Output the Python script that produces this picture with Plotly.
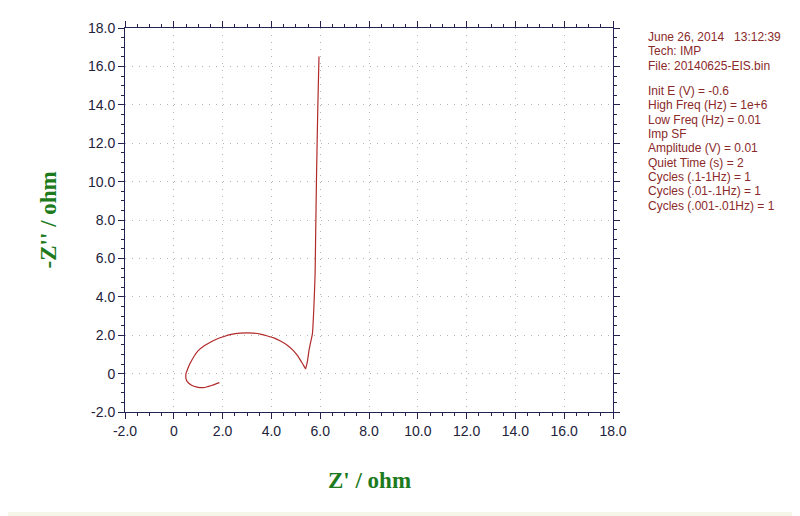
import plotly.graph_objects as go

# Nyquist data (Z' , -Z'')
z_real = [1.87, 1.55, 1.21, 0.95, 0.73, 0.55, 0.50, 0.50, 0.58, 0.66, 0.82, 1.00, 1.22, 1.48, 1.75,
          2.03, 2.35, 2.71, 3.00, 3.26, 3.55, 3.81, 4.10, 4.35, 4.65, 4.90, 5.08, 5.24, 5.33, 5.40,
          5.47, 5.54, 5.62, 5.68, 5.74, 5.79, 5.81, 5.85, 5.90, 5.95]
z_imag = [-0.47, -0.62, -0.73, -0.70, -0.61, -0.42, -0.26, 0.00, 0.28, 0.51, 0.88, 1.20, 1.43, 1.62, 1.79,
          1.92, 2.04, 2.11, 2.12, 2.11, 2.06, 1.97, 1.86, 1.71, 1.48, 1.20, 0.92, 0.59, 0.40, 0.25,
          0.60, 1.20, 1.70, 2.07, 3.43, 5.16, 6.87, 10.32, 13.74, 16.52]

tick_vals = [-2, 0, 2, 4, 6, 8, 10, 12, 14, 16, 18]
tick_text = ["-2.0", "0", "2.0", "4.0", "6.0", "8.0", "10.0", "12.0", "14.0", "16.0", "18.0"]

info_lines = [
    "June 26, 2014   13:12:39",
    "Tech: IMP",
    "File: 20140625-EIS.bin",
    "",
    "Init E (V) = -0.6",
    "High Freq (Hz) = 1e+6",
    "Low Freq (Hz) = 0.01",
    "Imp SF",
    "Amplitude (V) = 0.01",
    "Quiet Time (s) = 2",
    "Cycles (.1-1Hz) = 1",
    "Cycles (.01-.1Hz) = 1",
    "Cycles (.001-.01Hz) = 1",
]

axis_color = "#23234f"
label_color = "#22223a"
grid_color = "#b4b4b4"
title_green = "#1d7a1d"
info_color = "#8a2a2a"

fig = go.Figure()
fig.add_trace(go.Scatter(x=z_real, y=z_imag, mode="lines",
                         line=dict(color="#b22a2a", width=1.2, shape="spline", smoothing=0.5),
                         hoverinfo="skip", showlegend=False))

common = dict(
    showline=True, linecolor=axis_color, linewidth=1, mirror="allticks",
    ticks="outside", ticklen=6, tickcolor=axis_color, tickwidth=1,
    tickvals=tick_vals, ticktext=tick_text,
    tickfont=dict(family="Liberation Sans, Arial", size=14, color=label_color),
    showgrid=True, gridcolor=grid_color, griddash="1px,6px", gridwidth=1,
    zeroline=False, range=[-2, 18],
    minor=dict(dtick=0.5, ticks="outside", ticklen=3, tickcolor=axis_color, showgrid=False),
)
fig.update_xaxes(**common)
fig.update_yaxes(**common)

annotations = [
    dict(text="<b>Z' / ohm</b>", xref="paper", yref="paper", x=0.5, y=-0.178,
         xanchor="center", yanchor="middle", showarrow=False,
         font=dict(family="Liberation Serif, Times New Roman", size=23, color=title_green)),
    dict(text="<b>-Z'' / ohm</b>", xref="paper", yref="paper", x=-0.157, y=0.5,
         xanchor="center", yanchor="middle", showarrow=False, textangle=-90,
         font=dict(family="Liberation Serif, Times New Roman", size=23, color=title_green)),
]
y_px = 33
for line in info_lines:
    if line == "":
        y_px += 11
        continue
    annotations.append(dict(text=line, xref="paper", yref="paper",
                            x=(646 - 125) / 488, y=(412 - y_px) / 388,
                            xanchor="left", yanchor="middle", showarrow=False,
                            font=dict(family="Liberation Sans, Arial", size=12, color=info_color)))
    y_px += 14.5

# page body adds an 8px offset; shift margins so the plot area lands where the reference has it
fig.update_layout(
    width=800, height=516,
    margin=dict(l=117, r=195, t=16, b=112),
    paper_bgcolor="white", plot_bgcolor="white",
    annotations=annotations,
    shapes=[dict(type="rect", xref="paper", yref="paper", x0=-0.3, x1=1.5,
                 y0=(412 - 518) / 388, y1=(412 - 513) / 388,
                 fillcolor="#f5f5e8", line=dict(width=0), layer="below")],
)

fig.write_html("out.html")
